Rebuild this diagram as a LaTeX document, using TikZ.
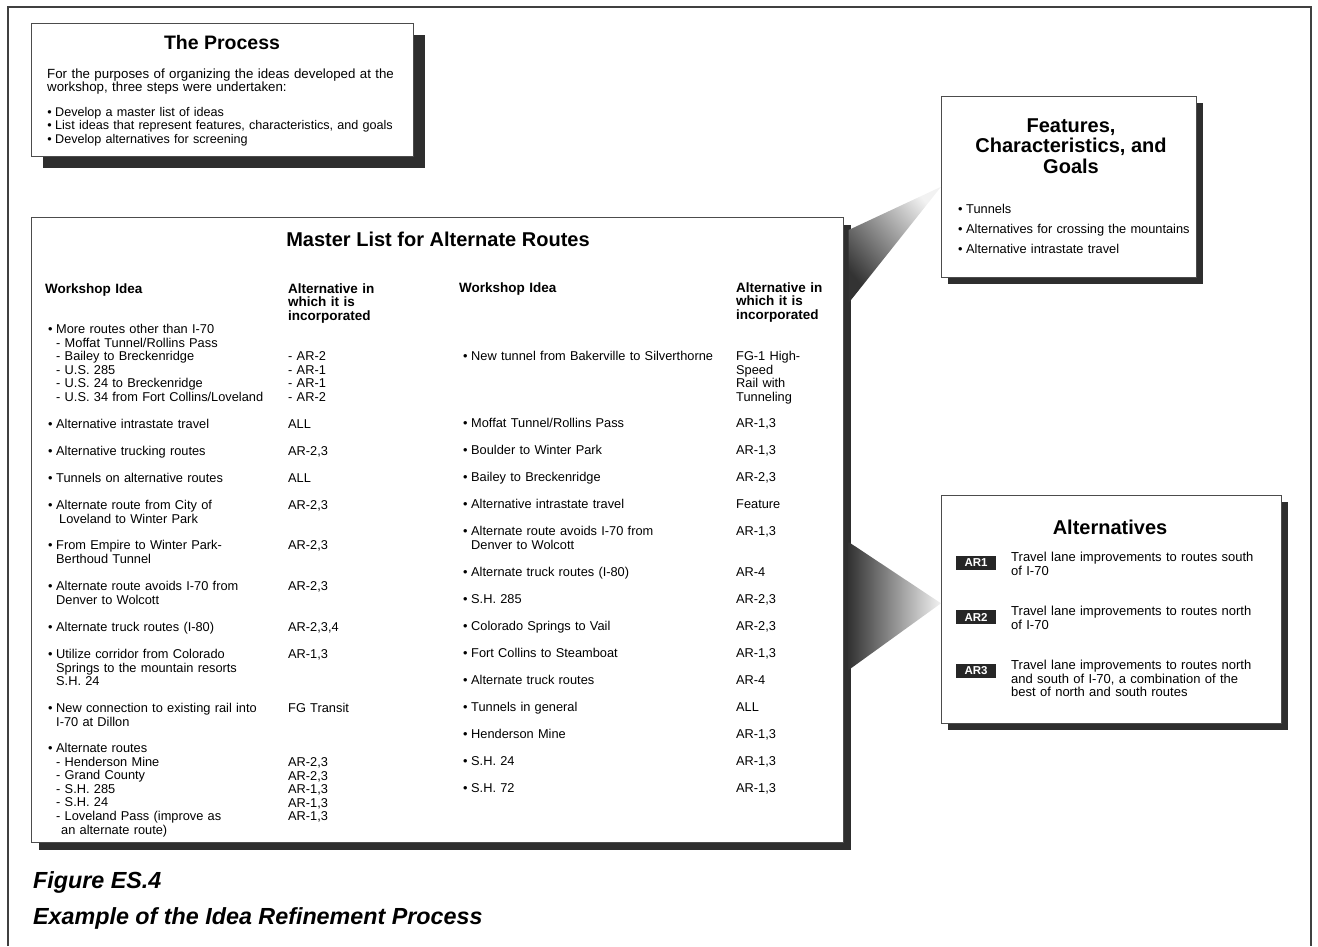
\documentclass[tikz,border=0pt]{standalone}
\usepackage{fontspec}
\setmainfont{Liberation Sans}
\usetikzlibrary{shadows,calc}
\newcommand{\bu}{\leavevmode\llap{\textbullet\hspace{3.5pt}}}

\begin{document}
\begin{tikzpicture}[x=1pt, y=-1pt,
    panel/.style={draw=black!70, line width=0.6pt, fill=white, inner sep=0pt, anchor=north west,
      drop shadow={shadow xshift=#1, shadow yshift=-#1, fill=black!82, opacity=1}},
    panel/.default=7pt,
    boxtitle/.style={font=\fontsize{20}{20.5}\selectfont\bfseries, align=center, inner sep=0pt},
    colhead/.style={font=\fontsize{13.5}{13.5}\selectfont\bfseries, anchor=base west, align=left, text width=150pt, inner sep=0pt},
    idea/.style={font=\fontsize{12.8}{13.6}\selectfont, anchor=base west, align=left, text width=360pt, inner sep=0pt},
    badge/.style={fill=black!85, text=white, font=\fontsize{11.5}{11.5}\selectfont\bfseries, minimum width=40pt, minimum height=14pt, inner sep=0pt},
    wedge/.style={left color=black!80, right color=black!5},
    caption/.style={font=\fontsize{23.3}{23.3}\selectfont\bfseries\itshape, anchor=base west, inner sep=0pt},
]
\useasboundingbox (0,0) rectangle (1318,946);
\draw[black!75, line width=1.2pt] (8,946) -- (8,7) -- (1311,7) -- (1311,946);

% the process
\node[panel=12pt, minimum width=382pt, minimum height=133pt] (process) at (31,23) {};
\node[boxtitle, font=\fontsize{19.5}{20}\selectfont\bfseries] (processtitle) at (222,43) {The Process};
\node[idea, font=\fontsize{13.3}{12.6}\selectfont] (purpose) at (47,78.5) {For the purposes of organizing the ideas developed at the\\workshop, three steps were undertaken:};
\node[idea, font=\fontsize{12.6}{13.3}\selectfont] (steps) at (55,116.5) {\bu Develop a master list of ideas\\\bu List ideas that represent features, characteristics, and goals\\\bu Develop alternatives for screening};

% master list
\node[panel=8pt, minimum width=812pt, minimum height=625pt] (master) at (31,217) {};
\node[boxtitle] (mastertitle) at (438,239) {Master List for Alternate Routes};

\node[colhead] (lhead) at (45,293) {Workshop Idea};
\node[colhead] (lalt) at (288,293) {Alternative in\\which it is\\incorporated};
\node[colhead] (rhead) at (459,292) {Workshop Idea};
\node[colhead] (ralt) at (736,292) {Alternative in\\which it is\\incorporated};

\node[idea] (lmore) at (56,333.5) {\bu More routes other than I-70\\- Moffat Tunnel/Rollins Pass\\- Bailey to Breckenridge\\- U.S. 285\\- U.S. 24 to Breckenridge\\- U.S. 34 from Fort Collins/Loveland};
\node[idea] (lmoreval) at (288,360.5) {- AR-2\\- AR-1\\- AR-1\\- AR-2};
\foreach \yy/\txt/\val [count=\i] in {
    428.5/{Alternative intrastate travel}/ALL,
    455.5/{Alternative trucking routes}/{AR-2,3},
    482.5/{Tunnels on alternative routes}/ALL,
    509.5/{Alternate route from City of\\\hspace*{3pt}Loveland to Winter Park}/{AR-2,3},
    549.5/{From Empire to Winter Park-\\Berthoud Tunnel}/{AR-2,3},
    590.5/{Alternate route avoids I-70 from\\Denver to Wolcott}/{AR-2,3},
    631.5/{Alternate truck routes (I-80)}/{AR-2,3,4},
    658.5/{Utilize corridor from Colorado\\Springs to the mountain resorts\\S.H. 24}/{AR-1,3},
    712.5/{New connection to existing rail into\\I-70 at Dillon}/{FG Transit}}
{
    \node[idea] (li\i) at (56,\yy) {\bu\txt};
    \node[idea] (lv\i) at (288,\yy) {\val};
}
\node[idea] (lroutes) at (56,752.5) {\bu Alternate routes\\- Henderson Mine\\- Grand County\\- S.H. 285\\- S.H. 24\\- Loveland Pass (improve as\\\hspace*{5pt}an alternate route)};
\node[idea] (lroutesval) at (288,766.5) {AR-2,3\\AR-2,3\\AR-1,3\\AR-1,3\\AR-1,3};

\node[idea] (rtunnel) at (471,360.5) {\bu New tunnel from Bakerville to Silverthorne};
\node[idea] (rtunnelval) at (736,360.5) {FG-1 High-\\Speed\\Rail with\\Tunneling};
\foreach \yy/\txt/\val [count=\i] in {
    427.5/{Moffat Tunnel/Rollins Pass}/{AR-1,3},
    454.5/{Boulder to Winter Park}/{AR-1,3},
    481.5/{Bailey to Breckenridge}/{AR-2,3},
    508.5/{Alternative intrastate travel}/Feature,
    535.5/{Alternate route avoids I-70 from\\Denver to Wolcott}/{AR-1,3},
    576.5/{Alternate truck routes (I-80)}/AR-4,
    603.5/{S.H. 285}/{AR-2,3},
    630.5/{Colorado Springs to Vail}/{AR-2,3},
    657.5/{Fort Collins to Steamboat}/{AR-1,3},
    684.5/{Alternate truck routes}/AR-4,
    711.5/{Tunnels in general}/ALL,
    738.5/{Henderson Mine}/{AR-1,3},
    765.5/{S.H. 24}/{AR-1,3},
    792.5/{S.H. 72}/{AR-1,3}}
{
    \node[idea] (ri\i) at (471,\yy) {\bu\txt};
    \node[idea] (rv\i) at (736,\yy) {\val};
}

% features and alternatives
\node[panel, minimum width=255pt, minimum height=181pt] (features) at (941,96) {};
\node[boxtitle] (featurestitle) at (1071,146) {Features,\\Characteristics, and\\Goals};
\node[idea, font=\fontsize{12.8}{20}\selectfont] (featurelist) at (966,213.5) {\bu Tunnels\\\bu Alternatives for crossing the mountains\\\bu Alternative intrastate travel};

\node[panel, minimum width=340pt, minimum height=228pt] (alts) at (941,495) {};
\node[boxtitle] (altstitle) at (1110,527) {Alternatives};
\foreach \n/\yy/\txt in {
    1/561.5/{Travel lane improvements to routes south\\of I-70},
    2/615.5/{Travel lane improvements to routes north\\of I-70},
    3/669.5/{Travel lane improvements to routes north\\and south of I-70, a combination of the\\best of north and south routes}}
{
    \node[badge] (ar\n) at (976,\yy+1.5) {AR\n};
    \node[idea, font=\fontsize{13}{13.5}\selectfont] (artext\n) at (1011,\yy) {\txt};
}

\shade[wedge, shading angle=131] ($(master.north east)+(5,13)$) -- (features.west) -- ($(master.north east)+(5,86)$) -- cycle;
\shade[wedge] ($(master.north east)+(5,325)$) -- ($(alts.west)+(0,-6)$) -- ($(master.north east)+(5,453)$) -- cycle;

\node[caption] (figno) at (33,888) {Figure ES.4};
\node[caption] (figtitle) at (33,924) {Example of the Idea Refinement Process};
\end{tikzpicture}
\end{document}
